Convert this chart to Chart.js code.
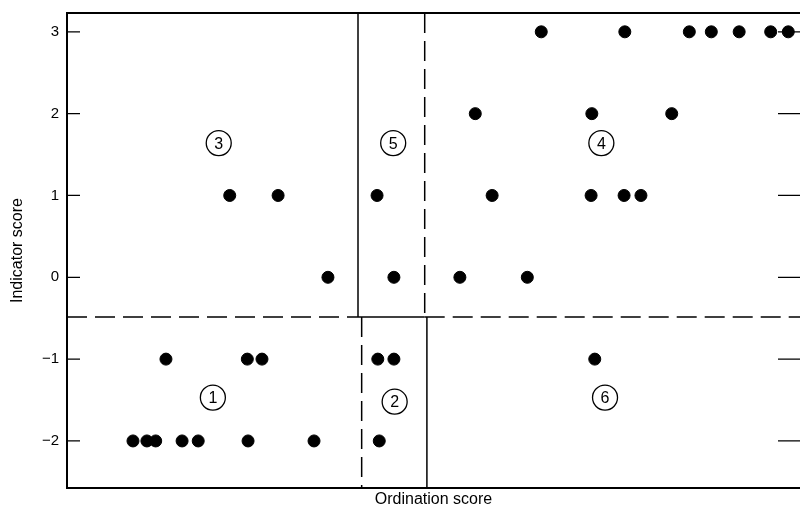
<!DOCTYPE html>
<html lang="en">
<head>
<meta charset="UTF-8">
<title>Indicator score vs ordination score</title>
<script src="https://cdn.jsdelivr.net/npm/chart.js"></script>
<style>
  html, body { margin: 0; padding: 0; background: #fff; overflow: hidden; }
  #wrap { width: 800px; height: 511px; }
</style>
</head>
<body>
<div id="wrap"><canvas id="grafico"></canvas></div>
<script>
// ordination score (0-100 units) and indicator score for each sample
const ordination = [
  9.0, 10.9, 12.1, 15.7, 17.9, 24.7, 33.7,
  13.5, 24.6, 26.6,
  22.2, 28.8, 35.6,
  42.3, 44.6,
  42.4, 44.6, 42.6,
  53.6, 62.8,
  58.0, 71.5, 76.0, 78.3,
  55.7, 71.6, 82.5,
  64.7, 76.1, 84.9, 87.9, 91.7, 96.0, 98.4,
  72.0
];
const indicator = [
  -2, -2, -2, -2, -2, -2, -2,
  -1, -1, -1,
  1, 1, 0,
  1, 0,
  -1, -1, -2,
  0, 0,
  1, 1, 1, 1,
  2, 2, 2,
  3, 3, 3, 3, 3, 3, 3,
  -1
];
const yTicks = [-2, -1, 0, 1, 2, 3];

// region numbers (circled) and where they sit
const regionNames = ['3', '5', '4', '1', '2', '6'];
const regionX = [20.7, 44.5, 72.9, 19.9, 44.7, 73.4];
const regionY = [1.64, 1.64, 1.64, -1.47, -1.52, -1.47];

// dividing lines
const splitY = -0.485;
const leftUpperX = 39.7, leftLowerX = 40.2;   // solid above, dashed below
const rightUpperX = 48.8, rightLowerX = 49.1; // dashed above, solid below

const fontFam = '"Liberation Sans", Arial, Helvetica, sans-serif';

const dibujo = {
  id: 'dibujo',
  afterDatasetsDraw(chart) {
    const ctx = chart.ctx;
    const xs = chart.scales.x, ys = chart.scales.y;
    const a = chart.chartArea;
    const yS = ys.getPixelForValue(splitY);
    ctx.save();
    ctx.strokeStyle = '#000';

    // frame top
    ctx.lineWidth = 2;
    ctx.beginPath();
    ctx.moveTo(a.left, a.top); ctx.lineTo(a.right, a.top);
    ctx.stroke();

    // inward ticks left and right
    ctx.lineWidth = 1.3;
    yTicks.forEach(v => {
      const py = ys.getPixelForValue(v);
      ctx.beginPath();
      ctx.moveTo(a.left, py); ctx.lineTo(a.left + 13, py);
      ctx.moveTo(a.right, py); ctx.lineTo(a.right - 22, py);
      ctx.stroke();
    });

    function linea(x1, y1, x2, y2, dash) {
      ctx.setLineDash(dash);
      ctx.beginPath();
      ctx.moveTo(x1, y1); ctx.lineTo(x2, y2);
      ctx.stroke();
    }
    ctx.lineWidth = 1.5;
    const dash = [20, 8];
    linea(a.left, yS, xs.getPixelForValue(leftUpperX), yS, dash);
    linea(xs.getPixelForValue(rightUpperX), yS, a.right, yS, dash);
    linea(xs.getPixelForValue(leftUpperX), yS, xs.getPixelForValue(rightUpperX), yS, []);
    linea(xs.getPixelForValue(leftUpperX), a.top, xs.getPixelForValue(leftUpperX), yS, []);
    linea(xs.getPixelForValue(leftLowerX), yS, xs.getPixelForValue(leftLowerX), a.bottom, dash);
    linea(xs.getPixelForValue(rightUpperX), a.top, xs.getPixelForValue(rightUpperX), yS, dash);
    linea(xs.getPixelForValue(rightLowerX), yS, xs.getPixelForValue(rightLowerX), a.bottom, []);
    ctx.setLineDash([]);

    // circled region numbers
    ctx.font = '16px ' + fontFam;
    ctx.textAlign = 'center';
    ctx.textBaseline = 'middle';
    ctx.fillStyle = '#000';
    ctx.lineWidth = 1.3;
    regionNames.forEach((n, i) => {
      const px = xs.getPixelForValue(regionX[i]);
      const py = ys.getPixelForValue(regionY[i]);
      ctx.beginPath();
      ctx.arc(px, py, 12.5, 0, Math.PI * 2);
      ctx.stroke();
      ctx.fillText(n, px, py + 1);
    });
    ctx.restore();
  }
};

new Chart(document.getElementById('grafico'), {
  type: 'scatter',
  data: {
    datasets: [{
      data: ordination.map((x, i) => ({ x: x, y: indicator[i] })),
      backgroundColor: '#000',
      borderColor: '#000',
      pointRadius: 6,
      pointHoverRadius: 6
    }]
  },
  options: {
    responsive: true,
    maintainAspectRatio: false,
    animation: false,
    events: [],
    layout: { autoPadding: false, padding: { top: 13, right: 0, left: 0, bottom: 0 } },
    plugins: { legend: { display: false }, tooltip: { enabled: false } },
    scales: {
      x: {
        min: 0, max: 100,
        grid: { display: false, drawTicks: false },
        border: { display: true, color: '#000', width: 2 },
        ticks: { display: false },
        title: {
          display: true, text: 'Ordination score', color: '#000',
          font: { family: fontFam, size: 16 }, padding: { top: 0, bottom: 2 }
        },
        afterFit(s) { s.height = 23; s.paddingLeft = 0; s.paddingRight = 0; }
      },
      y: {
        min: -2.575, max: 3.23,
        afterBuildTicks(s) { s.ticks = yTicks.map(v => ({ value: v })); },
        grid: { display: false, drawTicks: false },
        border: { display: true, color: '#000', width: 2 },
        ticks: {
          color: '#000', padding: 8,
          font: { family: fontFam, size: 15 },
          callback: v => (v < 0 ? '\u2212' + Math.abs(v) : String(v))
        },
        title: {
          display: true, text: 'Indicator score', color: '#000',
          font: { family: fontFam, size: 16 }, padding: { top: 8, bottom: 0 }
        },
        afterFit(s) { s.width = 67; s.paddingTop = 0; s.paddingBottom = 0; }
      }
    }
  },
  plugins: [dibujo]
});
</script>
</body>
</html>
